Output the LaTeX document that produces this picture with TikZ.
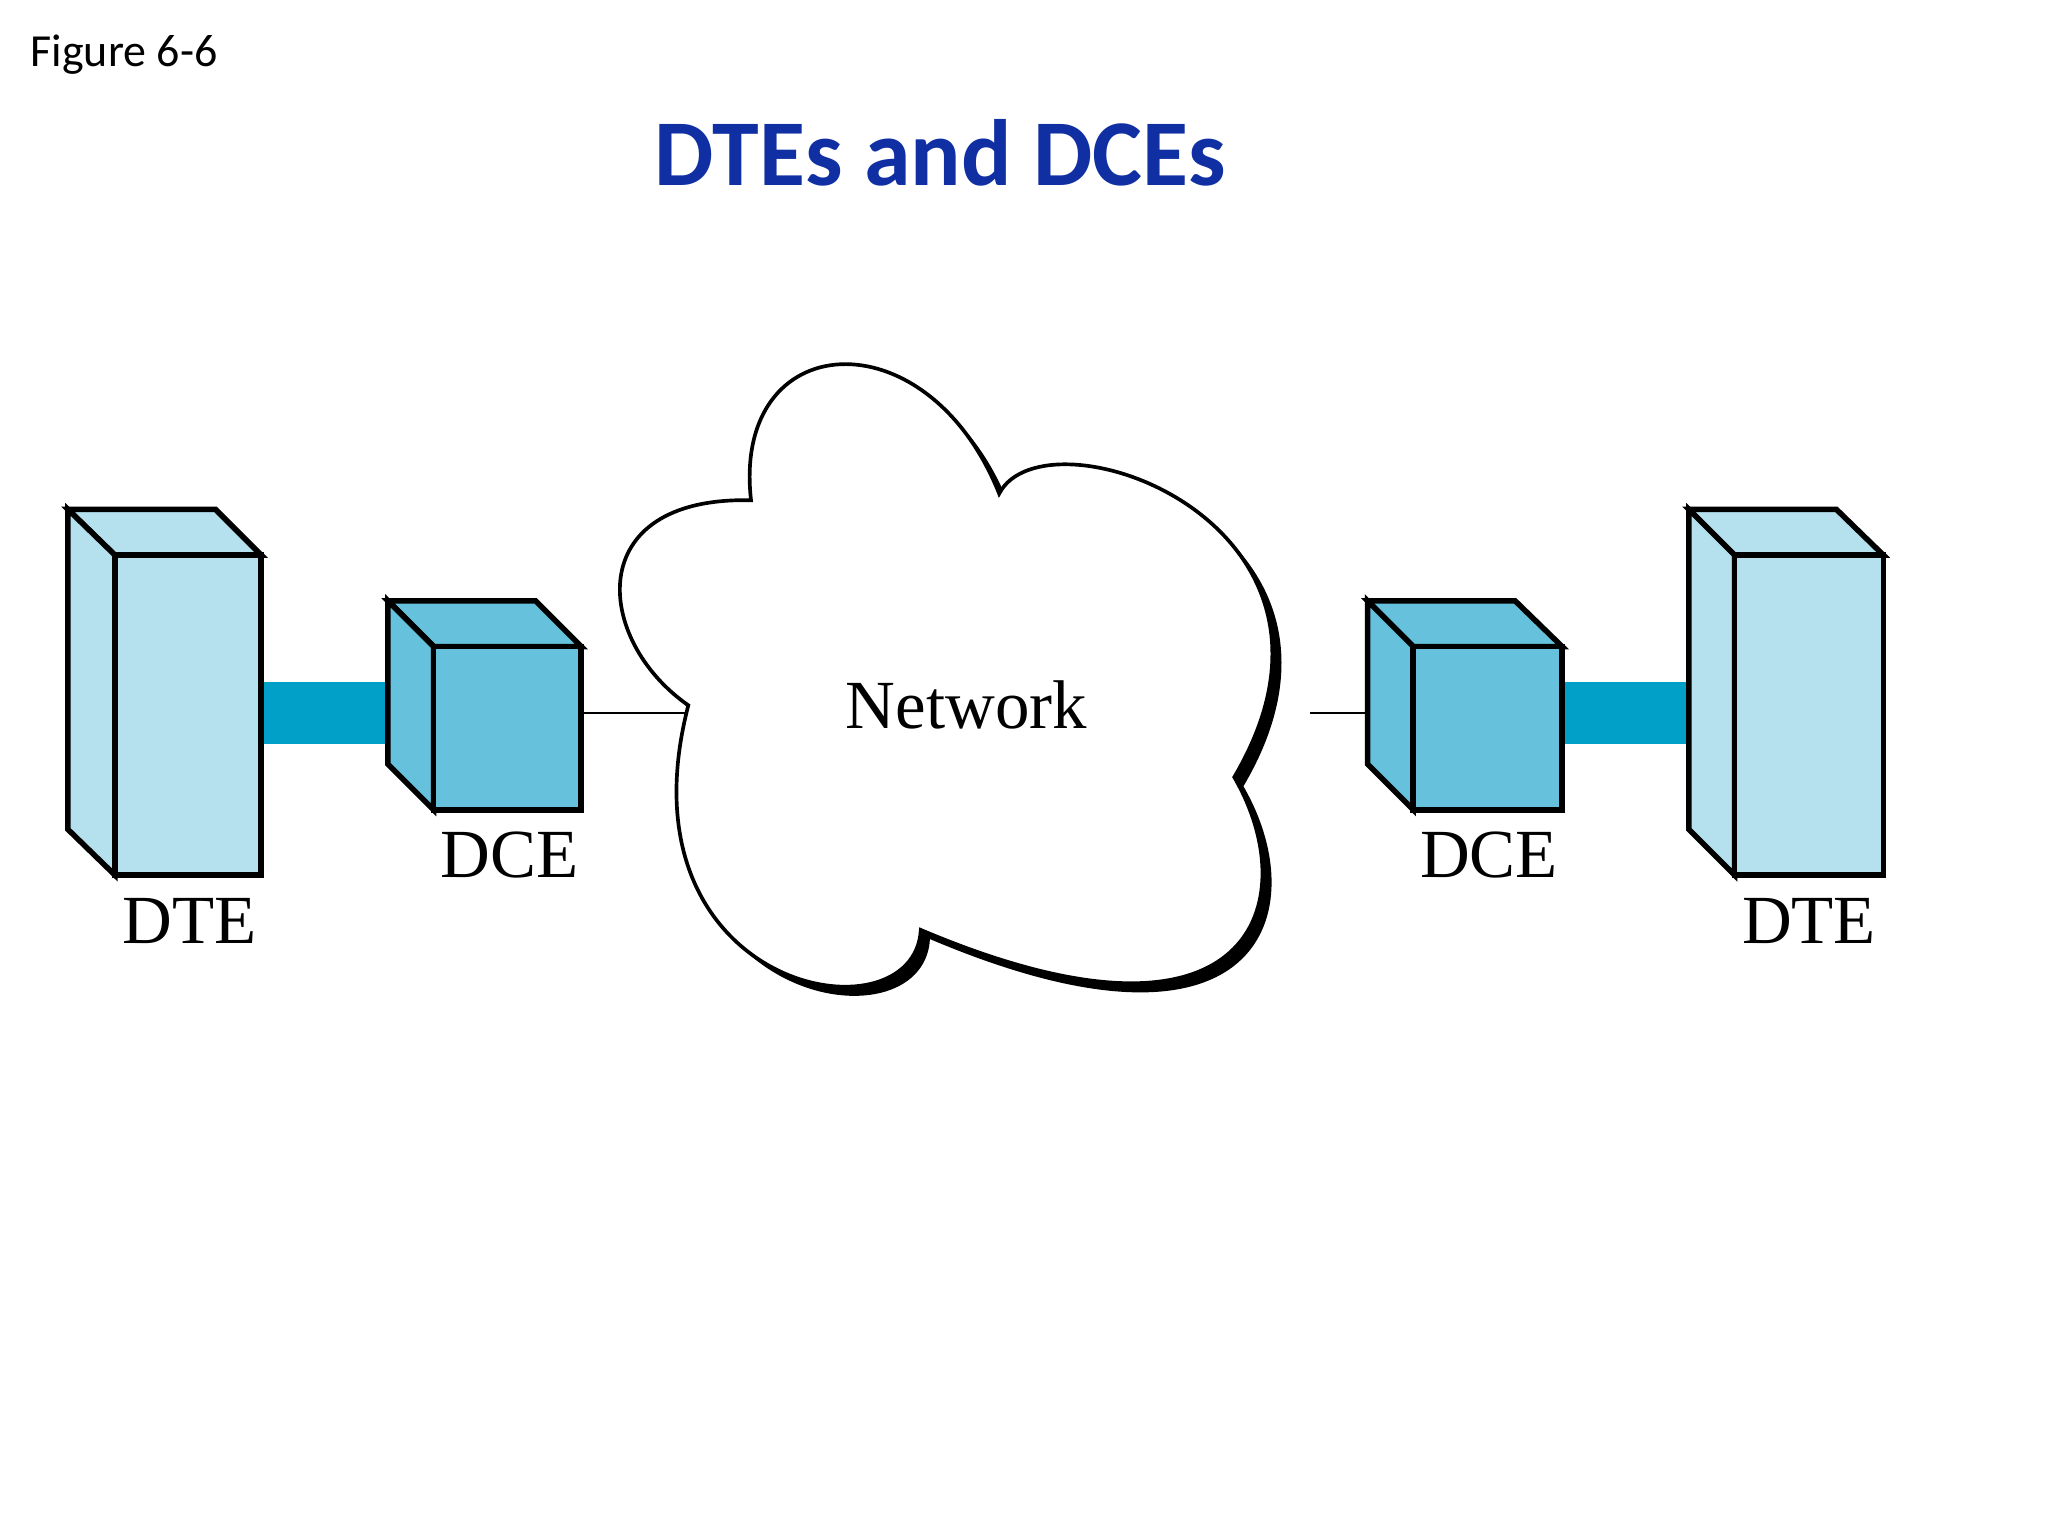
\documentclass[tikz,border=0pt]{standalone}
\usepackage{fontspec}
\setmainfont{Liberation Serif}
\newfontfamily\calfont{Carlito}
\definecolor{dteC}{HTML}{B5E0EE}
\definecolor{dceC}{HTML}{66C2DC}
\definecolor{barC}{HTML}{00A0C8}
\definecolor{titleC}{HTML}{0F2FA3}
\begin{document}
\begin{tikzpicture}[x=0.01cm,y=-0.01cm,
  box/.style={draw=black,line width=1.2pt,line join=miter},
  lab/.style={font=\fontsize{15}{15}\selectfont},
  thin/.style={draw=black,line width=0.5pt}]
\useasboundingbox (0,0) rectangle (1568,1176);
\fill[white] (0,0) rectangle (1568,1176);
\node[font=\calfont\fontsize{10}{12}\selectfont] (fig) at (95,42) {Figure 6-6};
\node[font=\calfont\bfseries\fontsize{20.5}{24}\selectfont,text=titleC] (title) at (720,117) {DTEs and DCEs};
% bars
\fill[barC] (200,522) rectangle (297,570);
\fill[barC] (1196,522) rectangle (1293,570);
% cloud
\def\cloud{(527,540) .. controls (455,490) and (445,380) .. (575,383)
  .. controls (560,250) and (710,240) .. (765,378)
  .. controls (800,310) and (1060,400) .. (945,595)
  .. controls (1000,690) and (960,820) .. (705,712)
  .. controls (700,800) and (470,760) .. (527,540) -- cycle}
\fill[black,shift={(7,7)}] \cloud;
\draw[black,line width=0.8pt,fill=white] \cloud;
\node[lab] (net) at (740,540) {Network};
\coordinate (cl) at (527,546);
\coordinate (cr) at (1003,546);
% left DTE
\filldraw[box,fill=dteC] (52,390) -- (165,390) -- (200,425) -- (88,425) -- cycle;
\filldraw[box,fill=dteC] (52,390) -- (88,425) -- (88,670) -- (52,635) -- cycle;
\filldraw[box,fill=dteC] (88,425) rectangle (200,670);
% left DCE
\filldraw[box,fill=dceC] (297,460) -- (410,460) -- (445,495) -- (332,495) -- cycle;
\filldraw[box,fill=dceC] (297,460) -- (332,495) -- (332,620) -- (297,585) -- cycle;
\filldraw[box,fill=dceC] (332,495) rectangle (445,620);
\coordinate (dl) at (445,546);
% right DCE
\filldraw[box,fill=dceC] (1047,460) -- (1160,460) -- (1196,495) -- (1082,495) -- cycle;
\filldraw[box,fill=dceC] (1047,460) -- (1082,495) -- (1082,620) -- (1047,585) -- cycle;
\filldraw[box,fill=dceC] (1082,495) rectangle (1196,620);
\coordinate (dr) at (1047,546);
% right DTE
\filldraw[box,fill=dteC] (1293,390) -- (1406,390) -- (1442,425) -- (1328,425) -- cycle;
\filldraw[box,fill=dteC] (1293,390) -- (1328,425) -- (1328,670) -- (1293,635) -- cycle;
\filldraw[box,fill=dteC] (1328,425) rectangle (1442,670);
\draw[thin] (dl) -- (cl);
\draw[thin] (cr) -- (dr);
\node[lab] (l1) at (145,705) {DTE};
\node[lab] (l2) at (390,655) {DCE};
\node[lab] (l3) at (1140,655) {DCE};
\node[lab] (l4) at (1385,705) {DTE};
\end{tikzpicture}
\end{document}
